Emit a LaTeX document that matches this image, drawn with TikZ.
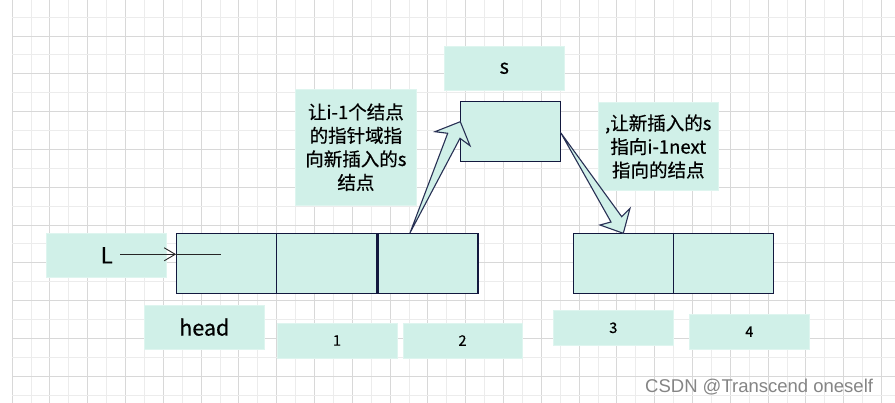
\documentclass[tikz,border=0pt]{standalone}
\usepackage{fontspec}
\setmainfont{Noto Sans CJK SC}[FakeBold=0.5]
\newfontfamily\wmfont{Liberation Sans}
\usetikzlibrary{arrows.meta}
\definecolor{mint}{RGB}{208,240,232}
\definecolor{mintedge}{RGB}{222,245,239}
\definecolor{navy}{RGB}{18,24,62}
\definecolor{arrowedge}{RGB}{40,48,84}
\definecolor{gmajor}{RGB}{216,216,216}
\definecolor{gminor}{RGB}{236,236,236}
\begin{document}
\begin{tikzpicture}[x=1pt,y=-1pt,
  lbl/.style={fill=mint,draw=mintedge,line width=0.8pt,inner sep=0pt,align=center},
  cell/.style={fill=mint,draw=navy,line width=1.2pt,inner sep=0pt,minimum width=100pt,minimum height=60pt},
  blockarrow/.style={fill=mint,draw=arrowedge,line width=1.1pt,line join=miter},
  callout/.style={font=\fontsize{18.5}{23.5}\selectfont}
]
\useasboundingbox (0,0) rectangle (895,403);
\fill[white] (0,0) rectangle (895,403);
% grid
\foreach \i in {0,...,46} {
  \pgfmathsetmacro{\xx}{12+18.9*\i}
  \pgfmathparse{int(mod(\i,2))}
  \ifnum\pgfmathresult=0
    \draw[gmajor,line width=0.9pt] (\xx,0) -- (\xx,403);
  \else
    \draw[gminor,line width=0.8pt] (\xx,0) -- (\xx,403);
  \fi
}
\foreach \j in {0,...,21} {
  \pgfmathsetmacro{\yy}{-1.8+18.9*\j}
  \pgfmathparse{int(mod(\j,2))}
  \ifnum\pgfmathresult=0
    \draw[gmajor,line width=0.9pt] (12,\yy) -- (895,\yy);
  \else
    \draw[gminor,line width=0.8pt] (12,\yy) -- (895,\yy);
  \fi
}
% label boxes
\node[lbl,minimum width=120pt,minimum height=44pt,font=\fontsize{22}{26}\selectfont] (Lbox) at (106.7,255.3) {L};
\node[lbl,minimum width=120pt,minimum height=43.3pt,font=\fontsize{20}{24}\selectfont] (slabel) at (504.3,68.3) {s};
\node[lbl,minimum width=120pt,minimum height=43.7pt,font=\fontsize{21.5}{26}\selectfont] (head) at (204.3,327.2) {head};
\node[lbl,minimum width=120pt,minimum height=35pt,font=\fontsize{14.5}{17}\selectfont] (n1) at (337,340.5) {1};
\node[lbl,minimum width=119pt,minimum height=35pt,font=\fontsize{14.5}{17}\selectfont] (n2) at (462.5,340.5) {2};
\node[lbl,minimum width=120pt,minimum height=35pt,font=\fontsize{14.5}{17}\selectfont] (n3) at (613.3,327.8) {3};
\node[lbl,minimum width=120pt,minimum height=34.7pt,font=\fontsize{14.5}{17}\selectfont] (n4) at (749.3,331.7) {4};
\node[lbl,callout,minimum width=120.3pt,minimum height=115.7pt] (c1) at (355.9,147.2) {让i-1个结点\\的指针域指\\向新插入的s\\结点};
\node[lbl,callout,minimum width=120pt,minimum height=88.3pt] (c2) at (658.3,146.5) {,让新插入的s\\指向i-1next\\指向的结点};
% list cells
\node[cell] (h1) at (226.7,263.3) {};
\node[cell] (h2) at (326.6,263.3) {};
\node[cell] (h3) at (428,263.3) {};
\node[cell] (r1) at (623.3,263.3) {};
\node[cell] (r2) at (723.3,263.3) {};
\node[cell,minimum width=100.4pt] (snode) at (510.5,131.3) {};
% L pointer
\coordinate (Lstart) at (120,254.3);
\coordinate (Lend) at (220.7,254.3);
\draw[line width=0.9pt,black!85,-{Straight Barb[length=11pt,width=13pt,line width=0.9pt]}] (Lstart) -- (h1.west |- Lstart);
\draw[line width=0.9pt,black!85] (h1.west |- Lstart) -- (Lend);
% block arrow 1: from h3 to snode
\coordinate (a1tail) at (410,232.9);
\coordinate (a1tip) at (460.3,121.7);
\draw[blockarrow] (a1tail) -- (447.7,133.3) -- (435,131.7) -- (a1tip) -- (470,145.7) -- (460,138.3) -- cycle;
% block arrow 2: from snode to r1
\coordinate (a2tail) at (560.7,132.7);
\coordinate (a2tip) at (623.3,233.3);
\draw[blockarrow] (a2tail) -- (621.7,216.7) -- (630,208.3) -- (a2tip) -- (600,225) -- (611,222) -- cycle;
% watermark
\node[anchor=base west,inner sep=0pt,text=black!48,font=\wmfont\fontsize{18.5}{22}\selectfont] (wm) at (645,393) {CSDN @Transcend oneself};
\end{tikzpicture}
\end{document}
